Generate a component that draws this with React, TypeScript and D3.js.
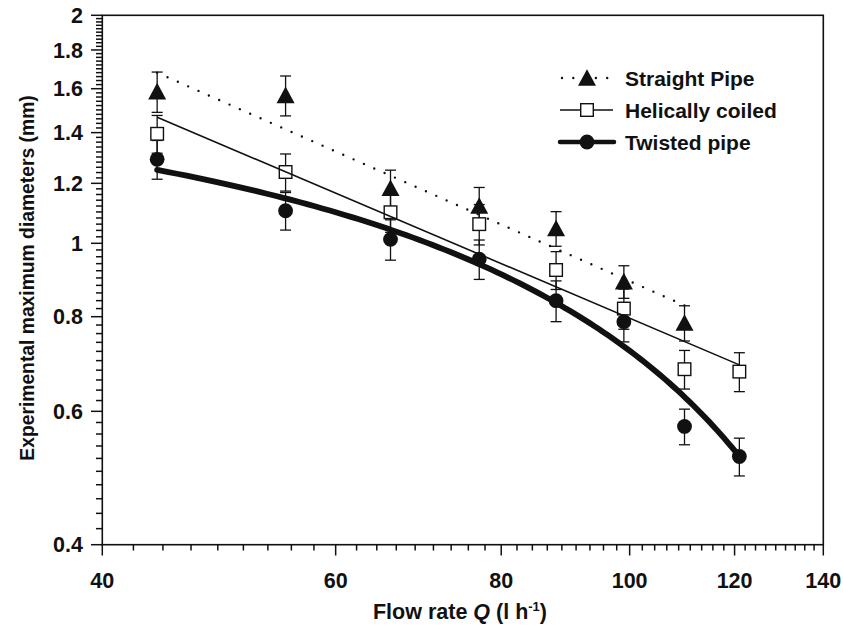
import React from 'react';
import * as d3 from 'd3';

// ---- data ----
const flowRates = [44, 55, 66, 77, 88, 99, 110, 121];
const straightValues = [1.586, 1.568, 1.182, 1.12, 1.046, 0.89, 0.785];
const straightErrors = [0.097, 0.095, 0.067, 0.065, 0.055, 0.044, 0.042];
const helicalValues = [1.395, 1.242, 1.099, 1.06, 0.922, 0.82, 0.682, 0.677];
const helicalErrors = [0.08, 0.07, 0.065, 0.065, 0.053, 0.05, 0.04, 0.04];
const twistedValues = [1.291, 1.104, 1.012, 0.953, 0.84, 0.788, 0.573, 0.523];
const twistedErrors = [0.076, 0.063, 0.062, 0.057, 0.052, 0.047, 0.031, 0.03];

// fitted lines: [x start, x end] and [y start, y end]
const straightFitX = [44, 110];
const straightFitY = [1.68, 0.828];
const helicalFitX = [44, 121];
const helicalFitY = [1.467, 0.691];
const twistedFitX = [44, 121];
const twistedFitY = [1.25, 0.523];

const xTickValues = [40, 60, 80, 100, 120, 140];
const xTickLabels = ['40', '60', '80', '100', '120', '140'];
const yTickValues = [0.4, 0.6, 0.8, 1, 1.2, 1.4, 1.6, 1.8, 2];
const yTickLabels = ['0.4', '0.6', '0.8', '1', '1.2', '1.4', '1.6', '1.8', '2'];
const legendLabels = ['Straight Pipe', 'Helically coiled', 'Twisted pipe'];

const W = 843;
const H = 625;
const INK = '#111';
const FONT = 'Liberation Sans, Arial, Helvetica, sans-serif';

const x = d3.scaleLog().domain([40, 140]).range([102.3, 823.3]);
const y = d3.scaleLog().domain([0.4, 2]).range([544.7, 15.3]);

// minor ticks
const xMinor: number[] = [];
for (let i = 0; i < xTickValues.length - 1; i++) {
  const a = xTickValues[i];
  const b = xTickValues[i + 1];
  for (let k = 1; k < 9; k++) xMinor.push(a + ((b - a) * k) / 9);
}
const yMinor: number[] = [];
for (let i = 0; i < yTickValues.length - 1; i++) {
  const a = yTickValues[i];
  const b = yTickValues[i + 1];
  for (let k = 1; k < 10; k++) yMinor.push(a + ((b - a) * k) / 10);
}

const logLine = d3
  .line<[number, number]>()
  .x((d) => x(d[0]))
  .y((d) => y(d[1]));

function linearFitPath(xs: number[], ys: number[]) {
  const ix = d3.interpolateNumber(xs[0], xs[1]);
  const iy = d3.interpolateNumber(ys[0], ys[1]);
  const pts: [number, number][] = d3.range(0, 1.0001, 0.01).map((t) => [ix(t), iy(t)]);
  return logLine(pts) || '';
}

const triPath = 'M0,-8.8L9,7.8L-9,7.8Z';

function Marker({ kind, cx, cy }: { kind: string; cx: number; cy: number }) {
  if (kind === 'tri') return <path d={triPath} transform={`translate(${cx},${cy})`} fill={INK} />;
  if (kind === 'sq')
    return <rect x={cx - 6.3} y={cy - 6.3} width={12.6} height={12.6} fill="#fff" stroke={INK} strokeWidth={1.4} />;
  return <circle cx={cx} cy={cy} r={7.4} fill={INK} />;
}

function ErrorBars({ values, errors }: { values: number[]; errors: number[] }) {
  return (
    <g stroke={INK} strokeWidth={1.3}>
      {values.map((v, i) => {
        const cx = x(flowRates[i]);
        const y1 = y(v + errors[i]);
        const y2 = y(v - errors[i]);
        return (
          <g key={i}>
            <line x1={cx} x2={cx} y1={y1} y2={y2} />
            <line x1={cx - 5.5} x2={cx + 5.5} y1={y1} y2={y1} />
            <line x1={cx - 5.5} x2={cx + 5.5} y1={y2} y2={y2} />
          </g>
        );
      })}
    </g>
  );
}

export default function App() {
  const series = [
    { values: straightValues, errors: straightErrors, kind: 'tri' },
    { values: helicalValues, errors: helicalErrors, kind: 'sq' },
    { values: twistedValues, errors: twistedErrors, kind: 'circ' },
  ];
  const legendY = [78, 110, 142];
  return (
    <svg width={W} height={H} style={{ position: 'absolute', left: 0, top: 0, background: '#fff' }}>
      <rect width={W} height={H} fill="#fff" />
      {/* frame */}
      <rect x={102.3} y={15.3} width={721} height={529.4} fill="none" stroke={INK} strokeWidth={1.6} />
      {/* ticks */}
      <g stroke={INK} strokeWidth={1.5}>
        {xTickValues.map((t) => (
          <line key={'xM' + t} x1={x(t)} x2={x(t)} y1={544.7} y2={555.5} />
        ))}
        {xMinor.map((t, i) => (
          <line key={'xm' + i} x1={x(t)} x2={x(t)} y1={544.7} y2={550.5} />
        ))}
        {yTickValues.map((t) => (
          <line key={'yM' + t} x1={91} x2={102.3} y1={y(t)} y2={y(t)} />
        ))}
        {yMinor.map((t, i) => (
          <line key={'ym' + i} x1={96} x2={102.3} y1={y(t)} y2={y(t)} />
        ))}
      </g>
      <g fontFamily={FONT} fontWeight="bold" fontSize={21.5} fill={INK}>
        {xTickValues.map((t, i) => (
          <text key={'xl' + t} x={x(t)} y={588} textAnchor="middle">
            {xTickLabels[i]}
          </text>
        ))}
        {yTickValues.map((t, i) => (
          <text key={'yl' + t} x={83} y={y(t) + 7.7} textAnchor="end">
            {yTickLabels[i]}
          </text>
        ))}
      </g>
      {/* axis titles */}
      <text
        x={460}
        y={619}
        textAnchor="middle"
        fontFamily={FONT}
        fontWeight="bold"
        fontSize={21.5}
        fill={INK}
      >
        Flow rate <tspan fontStyle="italic">Q</tspan> (l h
        <tspan dy={-8} fontSize={13}>
          -1
        </tspan>
        <tspan dy={8}>)</tspan>
      </text>
      <text
        transform="translate(34,278) rotate(-90)"
        textAnchor="middle"
        fontFamily={FONT}
        fontWeight="bold"
        fontSize={19.3}
        fill={INK}
      >
        Experimental maximum diameters (mm)
      </text>
      {/* error bars */}
      {series.map((s, i) => (
        <ErrorBars key={'e' + i} values={s.values} errors={s.errors} />
      ))}
      {/* markers */}
      {series.map((s, i) => (
        <g key={'m' + i}>
          {s.values.map((v, j) => (
            <Marker key={j} kind={s.kind} cx={x(flowRates[j])} cy={y(v)} />
          ))}
        </g>
      ))}
      {/* fitted lines */}
      <path
        d={logLine([
          [straightFitX[0], straightFitY[0]],
          [straightFitX[1], straightFitY[1]],
        ]) || ''}
        fill="none"
        stroke={INK}
        strokeWidth={2.4}
        strokeDasharray="0 11.3"
        strokeLinecap="round"
      />
      <path
        d={logLine([
          [helicalFitX[0], helicalFitY[0]],
          [helicalFitX[1], helicalFitY[1]],
        ]) || ''}
        fill="none"
        stroke={INK}
        strokeWidth={1.6}
      />
      <path d={linearFitPath(twistedFitX, twistedFitY)} fill="none" stroke={INK} strokeWidth={5.8} strokeLinecap="round" />
      {/* legend */}
      <g>
        <line x1={562} x2={612} y1={legendY[0]} y2={legendY[0]} stroke={INK} strokeWidth={2.4} strokeDasharray="0 11.3" strokeLinecap="round" />
        <Marker kind="tri" cx={587} cy={legendY[0]} />
        <line x1={560} x2={613} y1={legendY[1]} y2={legendY[1]} stroke={INK} strokeWidth={1.6} />
        <Marker kind="sq" cx={587} cy={legendY[1]} />
        <line x1={560} x2={614} y1={legendY[2]} y2={legendY[2]} stroke={INK} strokeWidth={4.5} strokeLinecap="round" />
        <Marker kind="circ" cx={587} cy={legendY[2]} />
        <g fontFamily={FONT} fontWeight="bold" fontSize={21} fill={INK}>
          {legendLabels.map((l, i) => (
            <text key={l} x={625} y={legendY[i] + 7.5}>
              {l}
            </text>
          ))}
        </g>
      </g>
    </svg>
  );
}
